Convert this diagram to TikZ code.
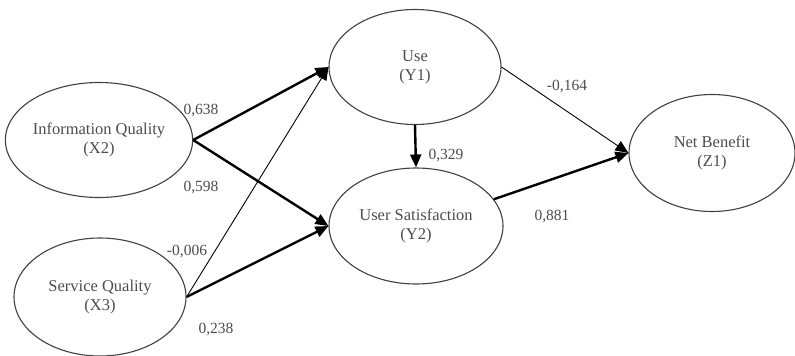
\documentclass[tikz,border=0pt]{standalone}
\usepackage{fontspec}
\setmainfont{Liberation Serif}
\usetikzlibrary{shapes.geometric,arrows.meta}
\begin{document}
\begin{tikzpicture}[x=1pt,y=-1pt,
  construct/.style={ellipse,draw=black!75,line width=1.1pt,inner sep=0pt,
    minimum width=172pt,minimum height=115pt,align=center,text=black!70,
    font=\fontsize{16.5}{19}\selectfont},
  strong/.style={line width=2.4pt,-{Triangle[length=13pt,width=11pt]}},
  weak/.style={line width=0.9pt,-{Triangle[length=13pt,width=11pt]}},
  coef/.style={text=black!70,font=\fontsize{15.5}{18}\selectfont,inner sep=0pt}]
\useasboundingbox (0,0) rectangle (795,356);
\node[construct] (IQ) at (99,140) {Information Quality\\(X2)};
\node[construct,minimum height=118pt] (SQ) at (100,297) {Service Quality\\(X3)};
\node[construct] (Use) at (415,67) {Use\\(Y1)};
\node[construct,minimum width=174pt,minimum height=116pt] (US) at (416,226) {User Satisfaction\\(Y2)};
\node[construct,minimum width=166pt,minimum height=117pt] (NB) at (712,153) {Net Benefit\\(Z1)};
\draw[strong] (IQ.east) -- (Use.west);
\draw[strong] (IQ.east) -- (US.west);
\draw[weak] (SQ.east) -- (Use.west);
\draw[strong] (SQ.east) -- (US.west);
\draw[strong] (Use.south) -- (US.north);
\draw[weak] (Use.east) -- (NB.west);
\draw[strong] (US) -- (NB.west);
\node[coef] (c1) at (201,111) {0,638};
\node[coef] (c2) at (201,188) {0,598};
\node[coef] (c3) at (187,252) {-0,006};
\node[coef] (c4) at (216,330) {0,238};
\node[coef] (c5) at (446,156) {0,329};
\node[coef] (c6) at (552,217) {0,881};
\node[coef] (c7) at (567,87) {-0,164};
\end{tikzpicture}
\end{document}
